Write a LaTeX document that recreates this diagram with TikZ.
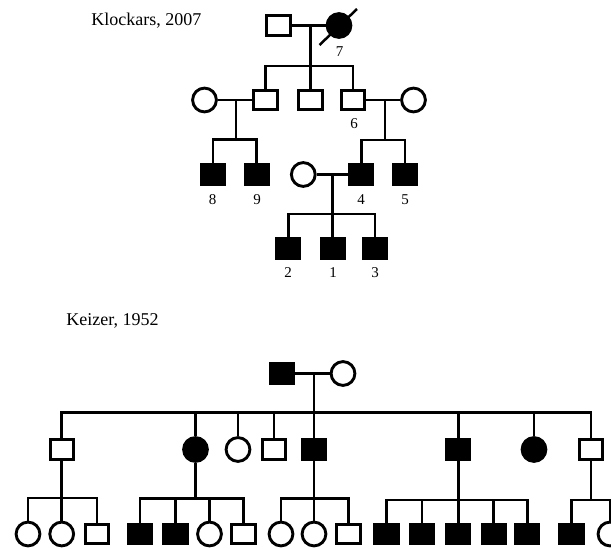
\documentclass[tikz,border=0pt]{standalone}
\usepackage{fontspec}
\setmainfont{Liberation Serif}
\begin{document}
\begin{tikzpicture}[x=1pt,y=-1pt,line width=2.9pt,
  msq/.style={draw,rectangle,minimum width=23.3pt,minimum height=19.8pt,inner sep=0pt,fill=white},
  asq/.style={msq,fill=black},
  fc/.style={draw,circle,minimum size=23.8pt,inner sep=0pt,fill=white},
  ac/.style={fc,fill=black},
  lbl/.style={font=\fontsize{15}{15}\selectfont,anchor=base,inner sep=0pt},
  ttl/.style={font=\fontsize{18}{18}\selectfont,anchor=base west,inner sep=0pt}]
\useasboundingbox (0,0) rectangle (611,549);
\clip (0,0) rectangle (611,549);

% ---------- Klockars 2007 ----------
\node[ttl] (t1) at (90,25) {Klockars, 2007};

\node[msq] (a0) at (278.5,25.5) {};
\node[ac] (p7) at (339,25.5) {};
\coordinate (s7a) at (319.5,45);
\coordinate (s7b) at (357,9);
\draw[line width=2.5pt] (s7a) -- (s7b);
\node[lbl] (l7) at (339.5,56) {7};
\coordinate (m0) at (310.5,25.5);
\coordinate (j0) at (310.5,66);

\node[msq] (b1) at (265.5,100) {};
\node[msq] (b2) at (310.5,100) {};
\node[msq] (p6) at (353,100) {};
\node[lbl] (l6) at (354,128.5) {6};
\node[fc] (wl) at (204.5,100) {};
\node[fc] (wr) at (413.5,100) {};
\coordinate (ml) at (236,100);
\coordinate (jl) at (236,139.5);
\coordinate (mr) at (385,100);
\coordinate (jr) at (385,140);

\node[asq] (p8) at (213,174.5) {};
\node[asq] (p9) at (256.7,174.5) {};
\node[asq] (p4) at (361.3,174.5) {};
\node[asq] (p5) at (405,174.5) {};
\node[fc] (wm) at (303.3,174.5) {};
\node[lbl] (l8) at (212.5,204.5) {8};
\node[lbl] (l9) at (257,204.5) {9};
\node[lbl] (l4) at (361,204.5) {4};
\node[lbl] (l5) at (405,204.5) {5};
\coordinate (mm) at (332.7,174.5);
\coordinate (jm) at (332.7,214);

\node[asq] (p2) at (288.3,248.3) {};
\node[asq] (p1) at (332.7,248.3) {};
\node[asq] (p3) at (375,248.3) {};
\node[lbl] (l2) at (288,277.5) {2};
\node[lbl] (l1) at (333,277.5) {1};
\node[lbl] (l3) at (375,277.5) {3};

\draw (a0) -- (p7);
\draw (m0) -- (j0);
\draw (b1.north) |- (j0) -| (p6.north);
\draw (j0) -- (b2.north);
\draw (wl) -- (b1);
\draw (ml) -- (jl);
\draw (p8.north) |- (jl) -| (p9.north);
\draw (p6) -- (wr);
\draw (mr) -- (jr);
\draw (p4.north) |- (jr) -| (p5.north);
\draw (wm) -- (p4);
\draw (mm) -- (jm);
\draw (p2.north) |- (jm) -| (p3.north);
\draw (jm) -- (p1.north);

% ---------- Keizer 1952 ----------
\node[ttl] (t2) at (65,325.5) {Keizer, 1952};

\node[asq] (k0) at (282,373.5) {};
\node[fc] (k0w) at (343,373.5) {};
\coordinate (km) at (314,373.5);
\coordinate (kj) at (314,412.5);
\draw (k0) -- (k0w);
\draw (km) -- (kj);

\node[msq] (g1) at (61.7,449.5) {};
\node[ac] (g2) at (195.5,449.5) {};
\node[fc] (g3) at (238,449.5) {};
\node[msq] (g4) at (274,449.5) {};
\node[asq] (g5) at (314,449.5) {};
\node[asq] (g6) at (458.3,449.5) {};
\node[ac] (g7) at (534,449.5) {};
\node[msq] (g8) at (591,449.5) {};
\draw (g1.north) |- (kj) -| (g8.north);
\draw (kj) -- (g5.north);
\draw (g2.north) -- (g2 |- kj);
\draw (g3.north) -- (g3 |- kj);
\draw (g4.north) -- (g4 |- kj);
\draw (g6.north) -- (g6 |- kj);
\draw (g7.north) -- (g7 |- kj);

% sibship A
\coordinate (ja) at (61.7,498);
\node[fc] (h1) at (28,534) {};
\node[fc] (h2) at (61.7,534) {};
\node[msq] (h3) at (97,534) {};
\draw (g1.south) -- (ja);
\draw (h1.north) |- (ja) -| (h3.north);
\draw (ja) -- (h2.north);

% sibship B
\coordinate (jb) at (195.5,498.3);
\node[asq] (i1) at (140,534) {};
\node[asq] (i2) at (175.5,534) {};
\node[fc] (i3) at (209.5,534) {};
\node[msq] (i4) at (243.5,534) {};
\draw (g2.south) -- (jb);
\draw (i1.north) |- (jb) -| (i4.north);
\draw (i2.north) -- (i2 |- jb);
\draw (i3.north) -- (i3 |- jb);

% sibship C
\coordinate (jc) at (314,498.7);
\node[fc] (c1) at (281,534) {};
\node[fc] (c2) at (314,534) {};
\node[msq] (c3) at (348.5,534) {};
\draw (g5.south) -- (jc);
\draw (c1.north) |- (jc) -| (c3.north);
\draw (jc) -- (c2.north);

% sibship D
\coordinate (jd) at (458.3,500);
\node[asq] (d1) at (386.5,534) {};
\node[asq] (d2) at (422,534) {};
\node[asq] (d3) at (458.3,534) {};
\node[asq] (d4) at (493.7,534) {};
\node[asq] (d5) at (527.3,534) {};
\draw (g6.south) -- (jd);
\draw (d1.north) |- (jd) -| (d5.north);
\draw (jd) -- (d3.north);
\draw (d2.north) -- (d2 |- jd);
\draw (d4.north) -- (d4 |- jd);

% sibship E
\coordinate (je) at (591,500);
\node[asq] (e1) at (571.5,534) {};
\node[fc] (e2) at (610,534) {};
\draw (g8.south) -- (je);
\draw (e1.north) |- (je) -| (e2.north);
\end{tikzpicture}
\end{document}
